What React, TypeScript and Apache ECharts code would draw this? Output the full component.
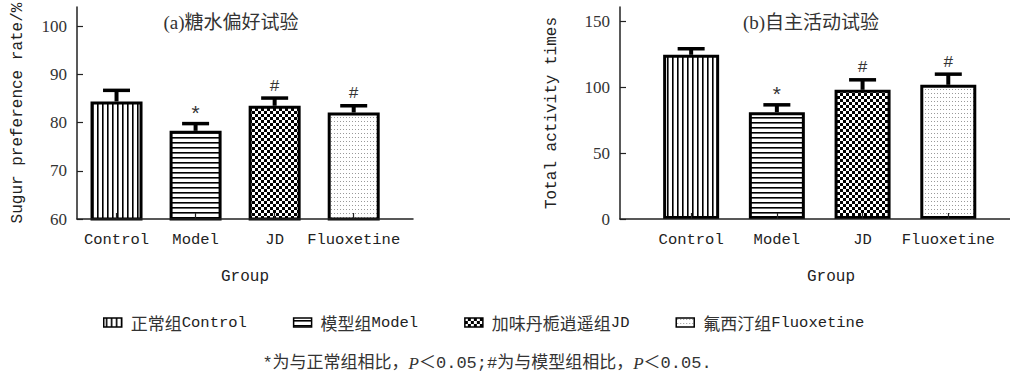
import React, { useEffect, useRef } from 'react';
import * as echarts from 'echarts';

const categories = ['Control', 'Model', 'JD', 'Fluoxetine'];
const legendNames = ['正常组Control', '模型组Model', '加味丹栀逍遥组JD', '氟西汀组Fluoxetine'];
const sugarMeans = [84.4, 78.3, 83.5, 82.1];
const sugarUpper = [86.7, 79.8, 85.1, 83.5];
const activityMeans = [124.7, 81.1, 98.1, 101.9];
const activityUpper = [129.3, 86.7, 105.7, 110.0];
const marks = ['', '*', '#', '#'];
const sugarTicks = [60, 70, 80, 90, 100];
const activityTicks = [0, 50, 100, 150];
const groupIdx = [0, 1, 2, 3];

function makePattern(kind: string) {
  const c = document.createElement('canvas');
  let w = 5, h = 5;
  if (kind === 'check') { w = 6; h = 6; }
  if (kind === 'dots') { w = 3; h = 4; }
  c.width = w; c.height = h;
  const ctx = c.getContext('2d')!;
  ctx.fillStyle = '#fff';
  ctx.fillRect(0, 0, w, h);
  ctx.fillStyle = '#000';
  if (kind === 'vert') ctx.fillRect(2, 0, 1.6, h);
  if (kind === 'horiz') ctx.fillRect(0, 2, w, 1.6);
  if (kind === 'check') {
    ctx.fillRect(0, 0, w, h);
    ctx.fillStyle = '#fff';
    ctx.fillRect(0, 0, 3, 3);
    ctx.fillRect(3, 3, 3, 3);
  }
  if (kind === 'dots') {
    ctx.fillStyle = '#999';
    ctx.fillRect(1, 1, 1, 1);
  }
  return { image: c, repeat: 'repeat', imageWidth: w, imageHeight: h };
}

export default function App() {
  const ref = useRef<HTMLDivElement>(null);
  useEffect(() => {
    const chart = echarts.init(ref.current!, null, { renderer: 'svg' });
    const patterns = ['vert', 'horiz', 'check', 'dots'].map(makePattern);
    const serifFont = 'Liberation Serif';
    const monoFont = 'Liberation Mono';

    const barSeries: any[] = [];
    [0, 1].forEach((g) => {
      const means = g === 0 ? sugarMeans : activityMeans;
      groupIdx.forEach((i) => {
        barSeries.push({
          type: 'bar',
          name: legendNames[i],
          xAxisIndex: g,
          yAxisIndex: g,
          barWidth: g === 0 ? 52 : 56,
          barGap: '-100%',
          data: [[i, means[i]]],
          itemStyle: { color: patterns[i], borderColor: '#000', borderWidth: 3 },
          z: 2,
        });
      });
    });

    const errSeries = [0, 1].map((g) => {
      const means = g === 0 ? sugarMeans : activityMeans;
      const upper = g === 0 ? sugarUpper : activityUpper;
      return {
        type: 'custom',
        xAxisIndex: g,
        yAxisIndex: g,
        z: 5,
        encode: { x: 0, y: 1 },
        data: groupIdx.map((i) => [i, means[i], upper[i]]),
        renderItem: (params: any, api: any) => {
          const x = api.value(0);
          const p0 = api.coord([x, api.value(1)]);
          const p1 = api.coord([x, api.value(2)]);
          const half = 13.5;
          const children: any[] = [
            { type: 'line', shape: { x1: p0[0], y1: p0[1], x2: p1[0], y2: p1[1] }, style: { stroke: '#000', lineWidth: 4 } },
            { type: 'line', shape: { x1: p1[0] - half, y1: p1[1], x2: p1[0] + half, y2: p1[1] }, style: { stroke: '#000', lineWidth: 3.5 } },
          ];
          const mk = marks[params.dataIndex];
          if (mk) {
            children.push({
              type: 'text',
              x: p1[0],
              y: p1[1] - (mk === '*' ? 8 : 12),
              style: { text: mk, fill: '#333', fontSize: mk === '*' ? 21 : 17, fontFamily: monoFont, align: 'center', verticalAlign: 'middle' },
            });
          }
          return { type: 'group', children };
        },
      };
    });

    const xAxisCommon = (g: number, min: number, max: number, namePad: number[]) => ({
      type: 'value',
      gridIndex: g,
      z: 4,
      min, max,
      name: 'Group',
      nameLocation: 'middle',
      nameGap: 50,
      nameTextStyle: { fontFamily: monoFont, fontSize: 16, color: '#222', padding: namePad },
      axisLine: { show: true, onZero: false, lineStyle: { color: '#222', width: 1.5 } },
      axisTick: { show: true, inside: true, length: 6, customValues: groupIdx, lineStyle: { color: '#222', width: 1.2 } },
      axisLabel: {
        customValues: groupIdx,
        formatter: (v: number) => categories[Math.round(v)] ?? '',
        fontFamily: monoFont, fontSize: 15.5, color: '#222', margin: 13,
      },
      splitLine: { show: false },
    });

    const yAxisCommon = (g: number, min: number, max: number, ticks: number[], name: string, gap: number) => ({
      type: 'value',
      gridIndex: g,
      min, max,
      name,
      nameLocation: 'middle',
      nameGap: gap,
      nameRotate: 90,
      nameTextStyle: { fontFamily: monoFont, fontSize: 16, color: '#222' },
      axisLine: { show: true, onZero: false, lineStyle: { color: '#222', width: 1.5 } },
      axisTick: { show: true, inside: true, length: 6, customValues: ticks, lineStyle: { color: '#222', width: 1.2 } },
      axisLabel: { customValues: ticks, fontFamily: serifFont, fontSize: 17, color: '#333', margin: 10 },
      splitLine: { show: false },
    });

    chart.setOption({
      animation: false,
      backgroundColor: '#fff',
      grid: [
        { left: 77, top: 7, width: 336, height: 212 },
        { left: 620, top: 7, width: 390, height: 212 },
      ],
      xAxis: [xAxisCommon(0, -0.5, 3.75, [0, 0, 0, 0]), xAxisCommon(1, -0.83, 3.72, [0, 0, 0, 32])],
      yAxis: [
        yAxisCommon(0, 60, 104, sugarTicks, 'Sugur preference rate/%', 51),
        yAxisCommon(1, 0, 161, activityTicks, 'Total activity times', 60),
      ],
      legend: {
        data: legendNames,
        left: 98,
        top: 309,
        itemWidth: 18,
        itemHeight: 9,
        itemGap: 46,
        icon: 'rect',
        itemStyle: { borderColor: '#000', borderWidth: 1.5 },
        formatter: (name: string) => {
          const m = name.match(/^([^\x00-\x7f]+)(.*)$/);
          return m ? `{c|${m[1]}}{l|${m[2]}}` : name;
        },
        textStyle: {
          color: '#222',
          rich: {
            c: { fontFamily: 'Noto Sans CJK SC', fontSize: 17, color: '#333', padding: [0, 0, 0, 4] },
            l: { fontFamily: monoFont, fontSize: 15.5, color: '#222' },
          },
        },
      },
      graphic: [
        {
          type: 'text', x: 231, y: 22, z: 10,
          style: { text: '(a)糖水偏好试验', fontSize: 19, fontFamily: 'Liberation Serif, Noto Sans CJK SC', fill: '#333', align: 'center', verticalAlign: 'middle' },
        },
        {
          type: 'text', x: 811, y: 22, z: 10,
          style: { text: '(b)自主活动试验', fontSize: 19, fontFamily: 'Liberation Serif, Noto Sans CJK SC', fill: '#333', align: 'center', verticalAlign: 'middle' },
        },
        {
          type: 'text', x: 487, y: 363, z: 10,
          style: {
            text: '*为与正常组相比，{i|P}＜0.05;#为与模型组相比，{i|P}＜0.05.',
            fontSize: 17, fontFamily: 'Liberation Mono, Noto Sans CJK SC', fill: '#333',
            align: 'center', verticalAlign: 'middle',
            rich: { i: { fontStyle: 'italic', fontFamily: 'Liberation Serif', fontSize: 17, fill: '#333' } },
          },
        },
      ],
      series: [...barSeries, ...errSeries],
    });
    return () => chart.dispose();
  }, []);
  return <div ref={ref} style={{ position: 'fixed', left: 0, top: 0, width: 1010, height: 378 }} />;
}
